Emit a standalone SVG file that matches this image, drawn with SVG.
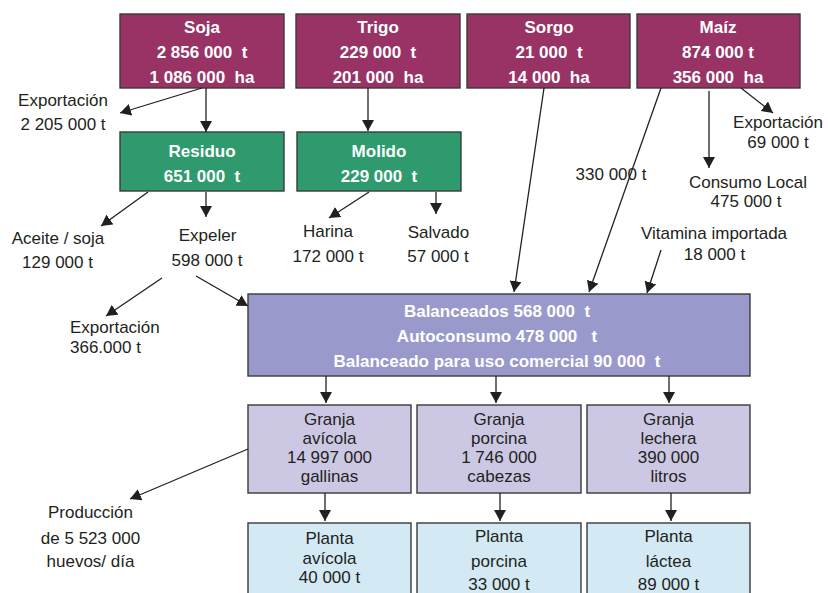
<svg xmlns="http://www.w3.org/2000/svg" width="828" height="593" viewBox="0 0 828 593">
  <defs>
    <marker id="arrow" viewBox="0 0 11 12" refX="11" refY="6" markerWidth="11" markerHeight="12" markerUnits="userSpaceOnUse" orient="auto">
      <path d="M0,0 L11,6 L0,12 z" fill="#231f20"/>
    </marker>
    <style>
      text { font-family: "Liberation Sans", Arial, sans-serif; font-size: 17px; fill: #231f20; text-anchor: middle; }
      .bold { font-weight: bold; fill: #ffffff; }
      .box { stroke: #3a3a3a; stroke-width: 1.4; }
      .crop { fill: #993366; }
      .proc { fill: #2e9a6e; }
      .feed { fill: #9999cc; }
      .farm { fill: #ccc8e4; }
      .plant { fill: #d3e9f3; }
      .conn line { stroke: #231f20; stroke-width: 1.3; marker-end: url(#arrow); }
    </style>
  </defs>
  <rect width="828" height="593" fill="#ffffff"/>

  <!-- crops -->
  <g id="soja">
    <rect class="box crop" x="120" y="14" width="164" height="74"/>
    <text class="bold" x="202" y="33">Soja</text>
    <text class="bold" x="202" y="58">2 856 000&#160; t</text>
    <text class="bold" x="202" y="83">1 086 000&#160; ha</text>
  </g>
  <g id="trigo">
    <rect class="box crop" x="296" y="14" width="164" height="74"/>
    <text class="bold" x="378" y="33">Trigo</text>
    <text class="bold" x="378" y="58">229 000&#160; t</text>
    <text class="bold" x="378" y="83">201 000&#160; ha</text>
  </g>
  <g id="sorgo">
    <rect class="box crop" x="467" y="14" width="163" height="74"/>
    <text class="bold" x="549" y="33">Sorgo</text>
    <text class="bold" x="549" y="58">21 000&#160; t</text>
    <text class="bold" x="549" y="83">14 000&#160; ha</text>
  </g>
  <g id="maiz">
    <rect class="box crop" x="637" y="14" width="163" height="74"/>
    <text class="bold" x="718" y="33">Maíz</text>
    <text class="bold" x="718" y="58">874 000 t</text>
    <text class="bold" x="718" y="83">356 000&#160; ha</text>
  </g>

  <!-- processing -->
  <g id="residuo">
    <rect class="box proc" x="120" y="132" width="164" height="59"/>
    <text class="bold" x="202" y="157">Residuo</text>
    <text class="bold" x="202" y="182">651 000&#160; t</text>
  </g>
  <g id="molido">
    <rect class="box proc" x="297" y="132" width="164" height="59"/>
    <text class="bold" x="379" y="157">Molido</text>
    <text class="bold" x="379" y="182">229 000&#160; t</text>
  </g>

  <!-- feed -->
  <g id="balanceados">
    <rect class="box feed" x="248" y="294" width="502" height="82"/>
    <text class="bold" x="497" y="317">Balanceados 568 000&#160; t</text>
    <text class="bold" x="497" y="342">Autoconsumo 478 000&#160;&#160; t</text>
    <text class="bold" x="497" y="367">Balanceado para uso comercial 90 000&#160; t</text>
  </g>

  <!-- farms -->
  <g id="granja-avicola">
    <rect class="box farm" x="248" y="405" width="163" height="88"/>
    <text x="329.5" y="425">Granja</text>
    <text x="329.5" y="444">avícola</text>
    <text x="329.5" y="463">14 997 000</text>
    <text x="329.5" y="482">gallinas</text>
  </g>
  <g id="granja-porcina">
    <rect class="box farm" x="417" y="405" width="164" height="88"/>
    <text x="499" y="425">Granja</text>
    <text x="499" y="444">porcina</text>
    <text x="499" y="463">1 746 000</text>
    <text x="499" y="482">cabezas</text>
  </g>
  <g id="granja-lechera">
    <rect class="box farm" x="587" y="405" width="163" height="88"/>
    <text x="668.5" y="425">Granja</text>
    <text x="668.5" y="444">lechera</text>
    <text x="668.5" y="463">390 000</text>
    <text x="668.5" y="482">litros</text>
  </g>

  <!-- plants -->
  <g id="planta-avicola">
    <rect class="box plant" x="248" y="523" width="163" height="80"/>
    <text x="329.5" y="544">Planta</text>
    <text x="329.5" y="564">avícola</text>
    <text x="329.5" y="583">40 000 t</text>
  </g>
  <g id="planta-porcina">
    <rect class="box plant" x="417" y="523" width="164" height="80"/>
    <text x="499" y="542">Planta</text>
    <text x="499" y="567">porcina</text>
    <text x="499" y="590">33 000 t</text>
  </g>
  <g id="planta-lactea">
    <rect class="box plant" x="587" y="523" width="163" height="80"/>
    <text x="668.5" y="542">Planta</text>
    <text x="668.5" y="567">láctea</text>
    <text x="668.5" y="590">89 000 t</text>
  </g>

  <!-- free labels -->
  <g id="exportacion-soja">
    <text x="63" y="106">Exportación</text>
    <text x="63" y="130">2 205 000 t</text>
  </g>
  <g id="aceite">
    <text x="58" y="244">Aceite / soja</text>
    <text x="57.5" y="268">129 000 t</text>
  </g>
  <g id="expeler">
    <text x="207.5" y="241">Expeler</text>
    <text x="207" y="266">598 000 t</text>
  </g>
  <g id="harina">
    <text x="328" y="237">Harina</text>
    <text x="328" y="262">172 000 t</text>
  </g>
  <g id="salvado">
    <text x="438.5" y="238">Salvado</text>
    <text x="438" y="262">57 000 t</text>
  </g>
  <g id="exportacion-expeler">
    <text x="70" y="333" style="text-anchor:start">Exportación</text>
    <text x="70" y="353" style="text-anchor:start">366.000 t</text>
  </g>
  <g id="exportacion-maiz">
    <text x="778" y="128">Exportación</text>
    <text x="778" y="148">69 000 t</text>
  </g>
  <g id="consumo-local">
    <text x="748" y="188">Consumo Local</text>
    <text x="746" y="207">475 000 t</text>
  </g>
  <g id="maiz-balanceados">
    <text x="611" y="180">330 000 t</text>
  </g>
  <g id="vitamina">
    <text x="714" y="239">Vitamina importada</text>
    <text x="714.5" y="260">18 000 t</text>
  </g>
  <g id="produccion-huevos">
    <text x="90.5" y="518">Producción</text>
    <text x="90.5" y="544">de 5 523 000</text>
    <text x="90.5" y="567">huevos/ día</text>
  </g>

  <!-- connectors -->
  <g class="conn" id="connectors">
    <line x1="202" y1="88" x2="120" y2="113"/>
    <line x1="206" y1="88" x2="206" y2="132"/>
    <line x1="368" y1="88" x2="368" y2="131"/>
    <line x1="148" y1="192" x2="101" y2="226"/>
    <line x1="206" y1="192" x2="206" y2="217"/>
    <line x1="369" y1="192" x2="329" y2="218"/>
    <line x1="436" y1="192" x2="436" y2="214"/>
    <line x1="162" y1="278" x2="106" y2="316"/>
    <line x1="196" y1="276" x2="248" y2="306"/>
    <line x1="544" y1="88" x2="514" y2="292"/>
    <line x1="661" y1="88" x2="589" y2="292"/>
    <line x1="709" y1="91" x2="709" y2="168"/>
    <line x1="741" y1="88" x2="773" y2="113"/>
    <line x1="661" y1="250" x2="647" y2="293"/>
    <line x1="326" y1="376" x2="326" y2="403"/>
    <line x1="496" y1="376" x2="496" y2="403"/>
    <line x1="669" y1="376" x2="669" y2="403"/>
    <line x1="248" y1="449" x2="130" y2="499"/>
    <line x1="325" y1="493" x2="325" y2="521"/>
    <line x1="500" y1="493" x2="500" y2="521"/>
    <line x1="671" y1="493" x2="671" y2="521"/>
  </g>
</svg>
